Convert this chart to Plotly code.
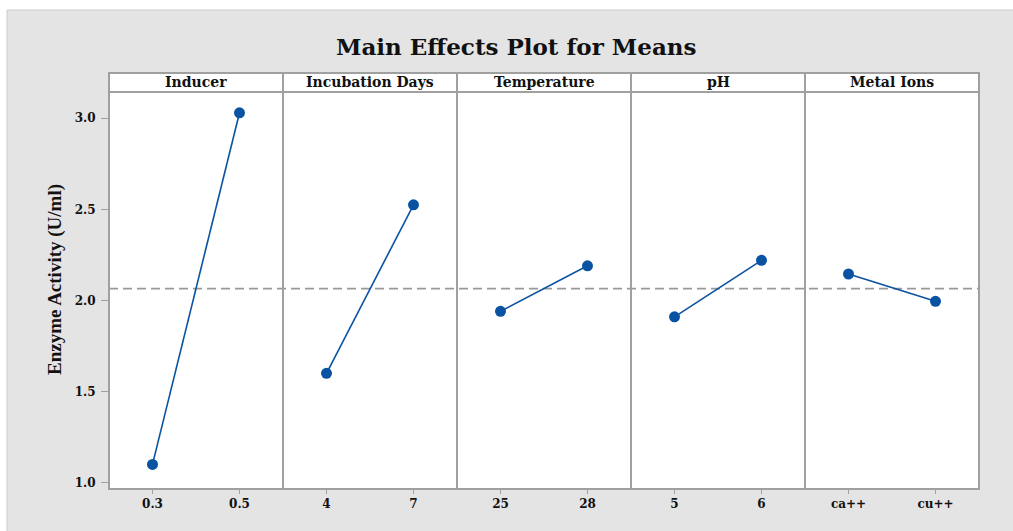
import plotly.graph_objects as go

# ---- data ----
factors = ["Inducer", "Incubation Days", "Temperature", "pH", "Metal Ions"]
levels = [["0.3", "0.5"], ["4", "7"], ["25", "28"], ["5", "6"], ["ca++", "cu++"]]
means = [[1.10, 3.03], [1.60, 2.525], [1.94, 2.19], [1.91, 2.22], [2.145, 1.995]]
grand_mean = 2.065
y_ticks = [1.0, 1.5, 2.0, 2.5, 3.0]
y_label = "Enzyme Activity (U/ml)"
title = "Main Effects Plot for Means"

W, H = 1013, 531
X0, X1 = 109, 979          # plot area (px)
YT, YB = 92, 489           # panel top / bottom (px)
HT = 73                    # strip header top (px)
n = len(factors)
pw = (X1 - X0) / n

def px(x):
    return x / W

def py(y):
    return 1 - y / H

BLUE = "#0a53a3"
GRID = "#a0a0a0"
FONT_TICK = dict(family="DejaVu Serif", size=12, color="#111")

fig = go.Figure()
layout = dict(
    width=W, height=H,
    margin=dict(l=0, r=0, t=0, b=0),
    paper_bgcolor="#e4e4e4",
    plot_bgcolor="white",
    showlegend=False,
    font=dict(family="DejaVu Serif", color="#111"),
)

shapes = []
annotations = []

# white top & left strips of the frame
shapes.append(dict(type="rect", xref="paper", yref="paper", x0=0, x1=1, y0=py(10), y1=1,
                   fillcolor="white", line=dict(width=0), layer="below"))
shapes.append(dict(type="rect", xref="paper", yref="paper", x0=0, x1=px(7), y0=0, y1=1,
                   fillcolor="white", line=dict(width=0), layer="below"))
shapes.append(dict(type="line", xref="paper", yref="paper", x0=px(7), x1=1, y0=py(10), y1=py(10),
                   line=dict(color="#cccccc", width=1)))
shapes.append(dict(type="line", xref="paper", yref="paper", x0=px(7), x1=px(7), y0=0, y1=py(10),
                   line=dict(color="#cccccc", width=1)))

for i, (f, lv, mv) in enumerate(zip(factors, levels, means)):
    k = "" if i == 0 else str(i + 1)
    xa = "xaxis" + k
    ya = "yaxis" + k
    xs = list(range(len(lv)))
    fig.add_trace(go.Scatter(
        x=xs, y=mv, mode="lines+markers",
        line=dict(color=BLUE, width=1.6),
        marker=dict(color=BLUE, size=11),
        xaxis="x" + k, yaxis="y" + k,
    ))
    d0 = px(X0 + i * pw)
    d1 = px(X0 + (i + 1) * pw)
    layout[xa] = dict(
        domain=[d0, d1], range=[-0.5, 1.5],
        tickvals=xs, ticktext=[f"<b>{t}</b>" for t in lv],
        tickfont=FONT_TICK, ticks="outside", ticklen=4, tickcolor=GRID,
        showline=False, showgrid=False, zeroline=False, fixedrange=True,
        anchor="y" + k,
    )
    yd = dict(
        domain=[py(YB), py(YT)], range=[0.965, 3.144],
        showline=False, showgrid=False, zeroline=False, fixedrange=True,
        anchor="x" + k,
    )
    if i == 0:
        yd.update(
            tickvals=y_ticks,
            ticktext=[f"<b>{v:.1f}</b>" for v in y_ticks],
            tickfont=FONT_TICK, ticks="outside", ticklen=7, tickcolor=GRID,
            ticklabelstandoff=3,
        )
    else:
        yd.update(showticklabels=False, ticks="")
    layout[ya] = yd

    # panel border
    shapes.append(dict(type="rect", xref="paper", yref="paper",
                       x0=d0, x1=d1, y0=py(YB), y1=py(YT),
                       fillcolor="rgba(0,0,0,0)", line=dict(color=GRID, width=2)))
    # strip header
    shapes.append(dict(type="rect", xref="paper", yref="paper",
                       x0=d0, x1=d1, y0=py(YT), y1=py(HT),
                       fillcolor="white", line=dict(color=GRID, width=2)))
    annotations.append(dict(text=f"<b>{f}</b>", xref="paper", yref="paper",
                            x=(d0 + d1) / 2, y=(py(YT) + py(HT)) / 2,
                            xanchor="center", yanchor="middle", showarrow=False,
                            font=dict(family="DejaVu Serif", size=14, color="#111")))

# grand mean reference line across all panels
shapes.append(dict(type="line", xref="paper", yref="y",
                   x0=px(X0), x1=px(X1), y0=grand_mean, y1=grand_mean,
                   line=dict(color="#999999", width=1.6, dash="9px,5px"), layer="below"))

# title
annotations.append(dict(text=f"<b>{title}</b>", xref="paper", yref="paper",
                        x=px(516), y=py(46), xanchor="center", yanchor="middle",
                        showarrow=False,
                        font=dict(family="DejaVu Serif", size=23, color="#111")))
# y label
annotations.append(dict(text=f"<b>{y_label}</b>", xref="paper", yref="paper",
                        x=px(55), y=py(280), xanchor="center", yanchor="middle",
                        textangle=-90, showarrow=False,
                        font=dict(family="Liberation Serif", size=19, color="#111")))

layout["shapes"] = shapes
layout["annotations"] = annotations
fig.update_layout(**layout)
fig.write_html("out.html",
               config={"displayModeBar": False},
               post_script="document.body.style.margin='0';document.body.style.overflow='hidden';")
